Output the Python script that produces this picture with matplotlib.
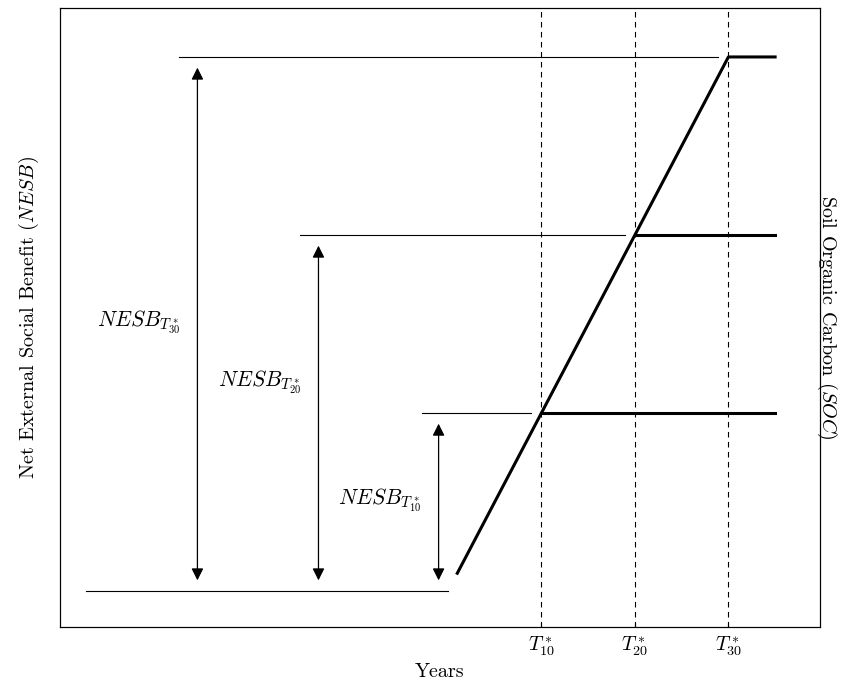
import numpy as np
import matplotlib
matplotlib.use("Agg")
import matplotlib.pyplot as plt

plt.rcParams['font.family'] = 'serif'
plt.rcParams['font.serif'] = ['cmr10']
plt.rcParams['mathtext.fontset'] = 'cm'
plt.rcParams['axes.formatter.use_mathtext'] = True

# SOC path: linear build-up, then flat after each T*
t_star = [10, 20, 30]
t_labels = [r'$T^*_{10}$', r'$T^*_{20}$', r'$T^*_{30}$']
soc_start = 1
soc_end = 35
levels = [10, 20, 30]

# reference lines (left start of each thin horizontal line)
base_x = [-38.7, 0]
level_line_start = [-2.8, -15.8, -28.8]
arrow_x = [-1.0, -13.85, -26.8]
label_y = [5.1, 11.7, 15.1]
nesb_labels = [r'$NESB_{T^*_{10}}$', r'$NESB_{T^*_{20}}$', r'$NESB_{T^*_{30}}$']

fig = plt.figure(figsize=(8.43, 6.89), dpi=100)
ax = fig.add_axes([60/843, 1-627/689, 760/843, 619/689])

# dashed verticals
for t in t_star:
    ax.axvline(t, color='black', ls=(0, (5, 4)), lw=0.8)

# baseline
ax.plot(base_x, [0, 0], color='black', lw=0.8)

# thin level lines
for xs, lv, t in zip(level_line_start, levels, t_star):
    ax.plot([xs, t - 1.1], [lv, lv], color='black', lw=0.8)

# SOC line
ax.plot([soc_start, t_star[-1], soc_end], [soc_start, levels[-1], levels[-1]], color='black', lw=2.2)
for t, lv in zip(t_star[:-1], levels[:-1]):
    ax.plot([t, soc_end], [lv, lv], color='black', lw=2.2)

# arrows
for ax_x, lv, ly, lab in zip(arrow_x, levels, label_y, nesb_labels):
    ax.annotate('', xy=(ax_x, lv - 0.6), xytext=(ax_x, 0.6),
                arrowprops=dict(arrowstyle='<|-|>', color='black', lw=0.9,
                                mutation_scale=18, shrinkA=0, shrinkB=0))
    ax.text(ax_x - 1.8, ly, lab, ha='right', va='center', fontsize=15.5)

ax.set_xlim(-41.5, 39.8)
ax.set_ylim(-2.02, 32.75)
ax.set_xticks(t_star)
ax.set_xticklabels(t_labels, fontsize=14.5)
ax.tick_params(axis='x', direction='in', length=3, width=0.8, pad=5)
ax.set_yticks([])
for s in ax.spines.values():
    s.set_linewidth(0.8)

ax.set_xlabel('Years', fontsize=14.5, labelpad=4)
ax.set_ylabel(r'Net External Social Benefit ($NESB$)', fontsize=14.5, labelpad=14)
ax2 = ax.twinx()
ax2.set_yticks([])
ax2.set_ylabel(r'Soil Organic Carbon ($SOC$)', fontsize=14.5, rotation=-90, labelpad=14)

fig.savefig('out.png', dpi=100)
